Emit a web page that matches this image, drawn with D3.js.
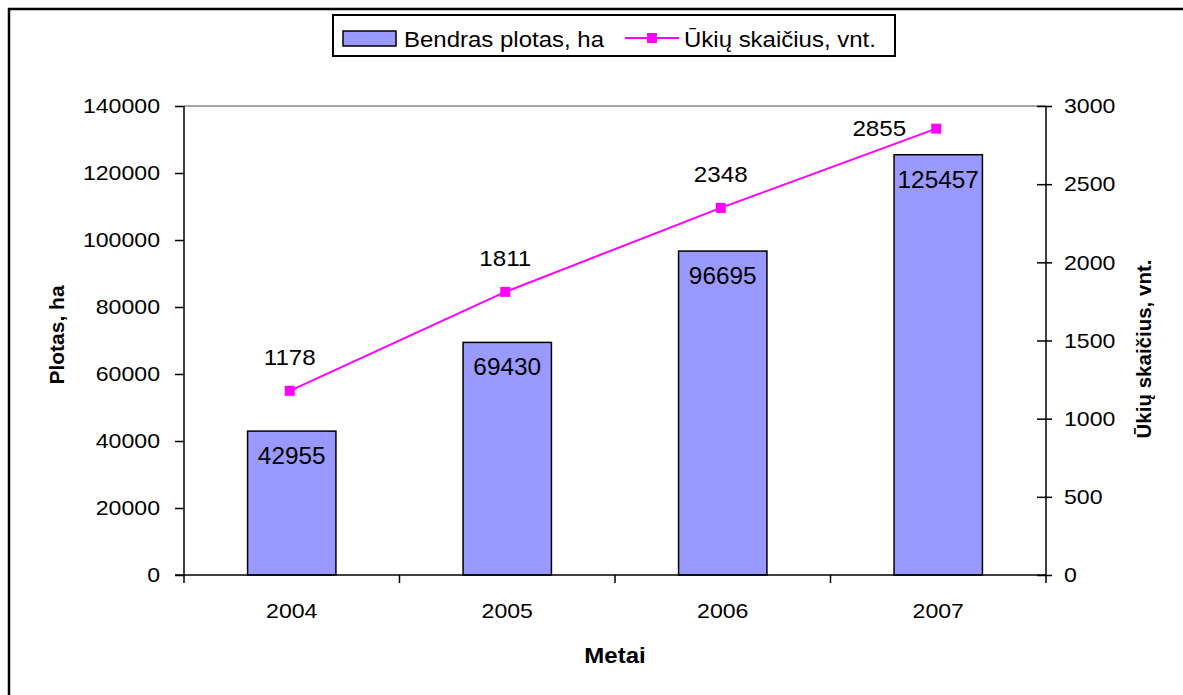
<!DOCTYPE html>
<html>
<head>
<meta charset="utf-8">
<script src="https://cdn.jsdelivr.net/npm/d3@7"></script>
<style>
  body { margin: 0; background: #fff; }
  text { font-family: "Liberation Sans", Arial, sans-serif; }
</style>
</head>
<body>
<script>
// data
const years = ["2004", "2005", "2006", "2007"];
const plotas = [42955, 69430, 96695, 125457];
const ukiai = [1178, 1811, 2348, 2855];
const leftTicks = [0, 20000, 40000, 60000, 80000, 100000, 120000, 140000];
const rightTicks = [0, 500, 1000, 1500, 2000, 2500, 3000];

const W = 1183, H = 695;
const m = { left: 184, right: 1046, top: 106, bottom: 575 };

const svg = d3.select("body").append("svg")
    .attr("width", W)
    .attr("height", H);

// the original text is a bit wider than the font, stretch it sideways
function widen(sel, k) {
    sel.each(function() {
        const len = this.getComputedTextLength();
        d3.select(this).attr("textLength", len * k).attr("lengthAdjust", "spacingAndGlyphs");
    });
}

// outer chart border
svg.append("rect")
    .attr("x", 9).attr("y", 9)
    .attr("width", W + 20).attr("height", H + 20)
    .attr("fill", "none")
    .attr("stroke", "#000")
    .attr("stroke-width", 2.5);

const x = d3.scaleBand().domain(years).range([m.left, m.right]).paddingInner(0.59).paddingOuter(0.295);
const band = d3.scaleBand().domain(years).range([m.left, m.right]);
const yL = d3.scaleLinear().domain([0, 140000]).range([m.bottom, m.top]);
const yR = d3.scaleLinear().domain([0, 3000]).range([m.bottom, m.top]);

// plot area top line
svg.append("line")
    .attr("x1", m.left).attr("x2", m.right)
    .attr("y1", m.top).attr("y2", m.top)
    .attr("stroke", "#888").attr("stroke-width", 1.5);

// bars
svg.selectAll("rect.bar").data(years).enter().append("rect")
    .attr("class", "bar")
    .attr("x", d => x(d))
    .attr("width", x.bandwidth())
    .attr("y", (d, i) => yL(plotas[i]))
    .attr("height", (d, i) => m.bottom - yL(plotas[i]))
    .attr("fill", "#9999ff")
    .attr("stroke", "#000")
    .attr("stroke-width", 1.5);

svg.selectAll("text.barlab").data(years).enter().append("text")
    .attr("class", "barlab")
    .attr("x", d => x(d) + x.bandwidth() / 2)
    .attr("y", (d, i) => yL(plotas[i]) + 33)
    .attr("text-anchor", "middle")
    .attr("font-size", 23)
    .text((d, i) => plotas[i])
    .call(widen, 1.06);

// axes
const axL = svg.append("g")
    .attr("transform", `translate(${m.left},0)`)
    .call(d3.axisLeft(yL).tickValues(leftTicks).tickSize(9).tickPadding(15).tickFormat(d3.format("d")));
const axR = svg.append("g")
    .attr("transform", `translate(${m.right},0)`)
    .call(d3.axisRight(yR).tickValues(rightTicks).tickSize(6).tickPadding(12).tickFormat(d3.format("d")));
axR.selectAll(".tick line").attr("x1", -9);
const axB = svg.append("g")
    .attr("transform", `translate(0,${m.bottom})`)
    .call(d3.axisBottom(band).tickSize(0).tickPadding(28));
// category boundary ticks
axB.selectAll("line.sep").data(years.concat(["end"])).enter().append("line")
    .attr("class", "sep")
    .attr("x1", (d, i) => i < years.length ? band(d) : m.right)
    .attr("x2", (d, i) => i < years.length ? band(d) : m.right)
    .attr("y1", 0).attr("y2", 8)
    .attr("stroke", "#000").attr("stroke-width", 1.5);

[axL, axR, axB].forEach(a => {
    a.selectAll("path.domain").attr("stroke", "#000").attr("stroke-width", 1.5);
    a.selectAll(".tick line").attr("stroke", "#000").attr("stroke-width", 1.5);
    a.selectAll(".tick text")
        .attr("font-family", "Liberation Sans, Arial, sans-serif")
        .attr("font-size", 21)
        .attr("fill", "#000")
        .call(widen, 1.1);
});
axL.select("path.domain").attr("d", `M-9,${m.bottom}H0V${m.top}`);
axR.select("path.domain").attr("d", `M0,${m.bottom}V${m.top}`);
axB.select("path.domain").attr("d", `M${m.left},0H${m.right}`);

// line series
const cx = (d) => band(d) + band.bandwidth() / 2 - 2;
svg.append("path")
    .datum(years)
    .attr("d", d3.line().x(d => cx(d)).y((d, i) => yR(ukiai[i])))
    .attr("fill", "none")
    .attr("stroke", "#ff00ff")
    .attr("stroke-width", 2);

svg.selectAll("rect.pt").data(years).enter().append("rect")
    .attr("x", d => cx(d) - 5)
    .attr("y", (d, i) => yR(ukiai[i]) - 5)
    .attr("width", 10).attr("height", 10)
    .attr("fill", "#ff00ff");

// last label sits to the left of its point (no room above)
const last = years.length - 1;
svg.selectAll("text.ptlab").data(years).enter().append("text")
    .attr("class", "ptlab")
    .attr("x", (d, i) => i === last ? cx(d) - 30 : cx(d))
    .attr("y", (d, i) => i === last ? yR(ukiai[i]) + 7 : yR(ukiai[i]) - 26)
    .attr("text-anchor", (d, i) => i === last ? "end" : "middle")
    .attr("font-size", 22)
    .text((d, i) => ukiai[i])
    .call(widen, 1.1);

// axis titles
svg.append("text")
    .attr("transform", "translate(64,335) rotate(-90)")
    .attr("text-anchor", "middle")
    .attr("font-size", 21).attr("font-weight", "bold")
    .text("Plotas, ha");
svg.append("text")
    .attr("transform", "translate(1151,349) rotate(-90)")
    .attr("text-anchor", "middle")
    .attr("font-size", 20.5).attr("font-weight", "bold")
    .text("Ūkių skaičius, vnt.");
svg.append("text")
    .attr("x", 615).attr("y", 663)
    .attr("text-anchor", "middle")
    .attr("font-size", 22).attr("font-weight", "bold")
    .text("Metai")
    .call(widen, 1.09);

// legend
const lg = svg.append("g");
lg.append("rect")
    .attr("x", 333).attr("y", 15)
    .attr("width", 562).attr("height", 41)
    .attr("fill", "#fff").attr("stroke", "#000").attr("stroke-width", 2);
lg.append("rect")
    .attr("x", 343).attr("y", 31)
    .attr("width", 53).attr("height", 15)
    .attr("fill", "#9999ff").attr("stroke", "#000").attr("stroke-width", 1.5);
lg.append("text")
    .attr("x", 404).attr("y", 47)
    .attr("font-size", 22)
    .text("Bendras plotas, ha")
    .call(widen, 1.09);
lg.append("line")
    .attr("x1", 625).attr("x2", 679)
    .attr("y1", 38).attr("y2", 38)
    .attr("stroke", "#ff00ff").attr("stroke-width", 2);
lg.append("rect")
    .attr("x", 647).attr("y", 33)
    .attr("width", 10).attr("height", 10)
    .attr("fill", "#ff00ff");
lg.append("text")
    .attr("x", 684).attr("y", 47)
    .attr("font-size", 22)
    .text("Ūkių skaičius, vnt.")
    .call(widen, 1.09);
</script>
</body>
</html>
